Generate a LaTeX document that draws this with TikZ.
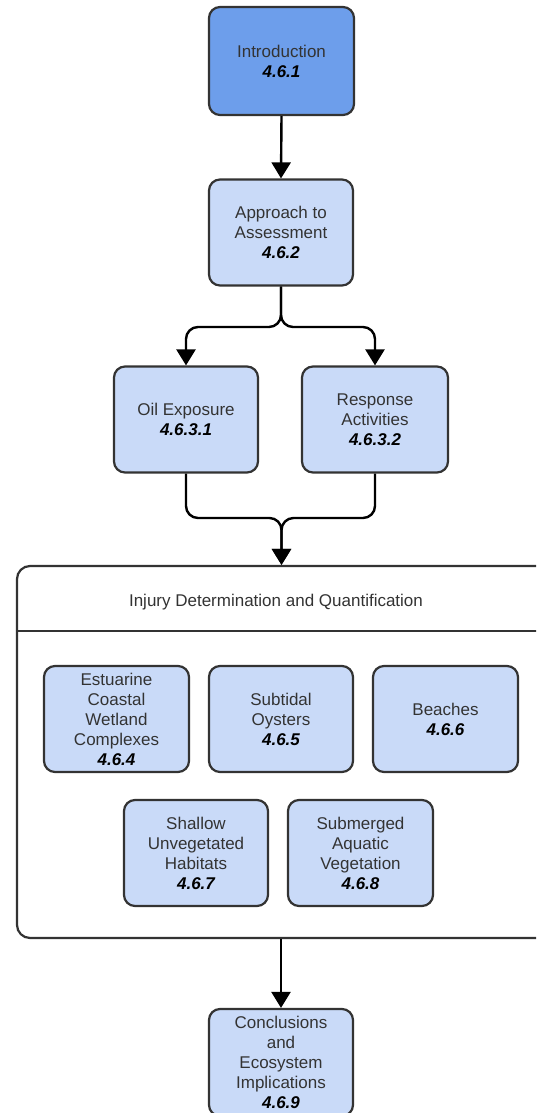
\documentclass[tikz,border=0pt]{standalone}
\usepackage{fontspec}
\setmainfont{Liberation Sans}
\usetikzlibrary{arrows.meta}
\definecolor{lightblue}{HTML}{C9DAF8}
\definecolor{darkblue}{HTML}{6D9EEB}
\definecolor{edge}{HTML}{333333}
\definecolor{txt}{HTML}{333333}
\newcommand{\secnum}[1]{\\{\color{black}\bfseries\itshape #1}}
\tikzset{
  box/.style={draw=edge, line width=2.2pt, rounded corners=11pt, fill=lightblue,
    minimum width=144pt, minimum height=106pt, align=center, inner sep=2pt,
    text=txt, font=\fontsize{17pt}{20pt}\selectfont},
  conn/.style={line width=2.4pt, black, rounded corners=12pt},
  arr/.style={conn, -{Triangle[width=19pt,length=16pt]}},
}
\begin{document}
\begin{tikzpicture}[x=1pt,y=-1pt]
\useasboundingbox (0,0) rectangle (536,1113);
\clip (0,0) rectangle (536,1113);
\fill[white] (0,0) rectangle (536,1113);

% container (its right side lies beyond the picture's edge)
\node[draw=edge, line width=2.2pt, rounded corners=13pt, fill=white,
  minimum width=543pt, minimum height=372pt, inner sep=0pt] (inj) at (288.5,752) {};
\draw[edge, line width=2.2pt] (inj.west |- 0,631) coordinate (hl) -- (inj.east |- 0,631) coordinate (hr);
\node[text=txt, font=\fontsize{17pt}{20pt}\selectfont] (injt) at (276,602) {Injury Determination and Quantification};

\node[box, fill=darkblue, minimum width=145pt, minimum height=108pt] (intro) at (281.5,61) {Introduction\secnum{4.6.1}};
\node[box] (appr) at (281,232.5) {Approach to\\Assessment\secnum{4.6.2}};
\node[box] (oil) at (186,419.5) {Oil Exposure\secnum{4.6.3.1}};
\node[box, minimum width=146pt] (resp) at (375,419.5) {Response\\Activities\secnum{4.6.3.2}};

\node[box, minimum width=145pt] (est) at (116.5,719) {Estuarine\\Coastal\\Wetland\\Complexes\secnum{4.6.4}};
\node[box] (sub) at (281,719) {Subtidal\\Oysters\secnum{4.6.5}};
\node[box, minimum width=145pt] (bea) at (445.5,719) {Beaches\secnum{4.6.6}};
\node[box] (sha) at (196,853) {Shallow\\Unvegetated\\Habitats\secnum{4.6.7}};
\node[box, minimum width=145pt] (sav) at (360.5,853) {Submerged\\Aquatic\\Vegetation\secnum{4.6.8}};

\node[box, minimum height=107pt] (conc) at (281,1062.5) {Conclusions\\and\\Ecosystem\\Implications\secnum{4.6.9}};

\coordinate (fork) at (281,327);
\coordinate (merge) at (281.5,518);

\draw[arr] (intro.south) -- (appr.north);
\draw[arr] (appr.south) -- (appr.south |- fork) -| (oil.north);
\draw[arr] (appr.south) -- (appr.south |- fork) -| (resp.north);
\draw[arr] (oil.south) |- (merge) -- (merge |- inj.north);
\draw[arr] (resp.south) |- (merge) -- (merge |- inj.north);
\draw[arr] (conc.north |- inj.south) -- (conc.north);
\end{tikzpicture}
\end{document}
